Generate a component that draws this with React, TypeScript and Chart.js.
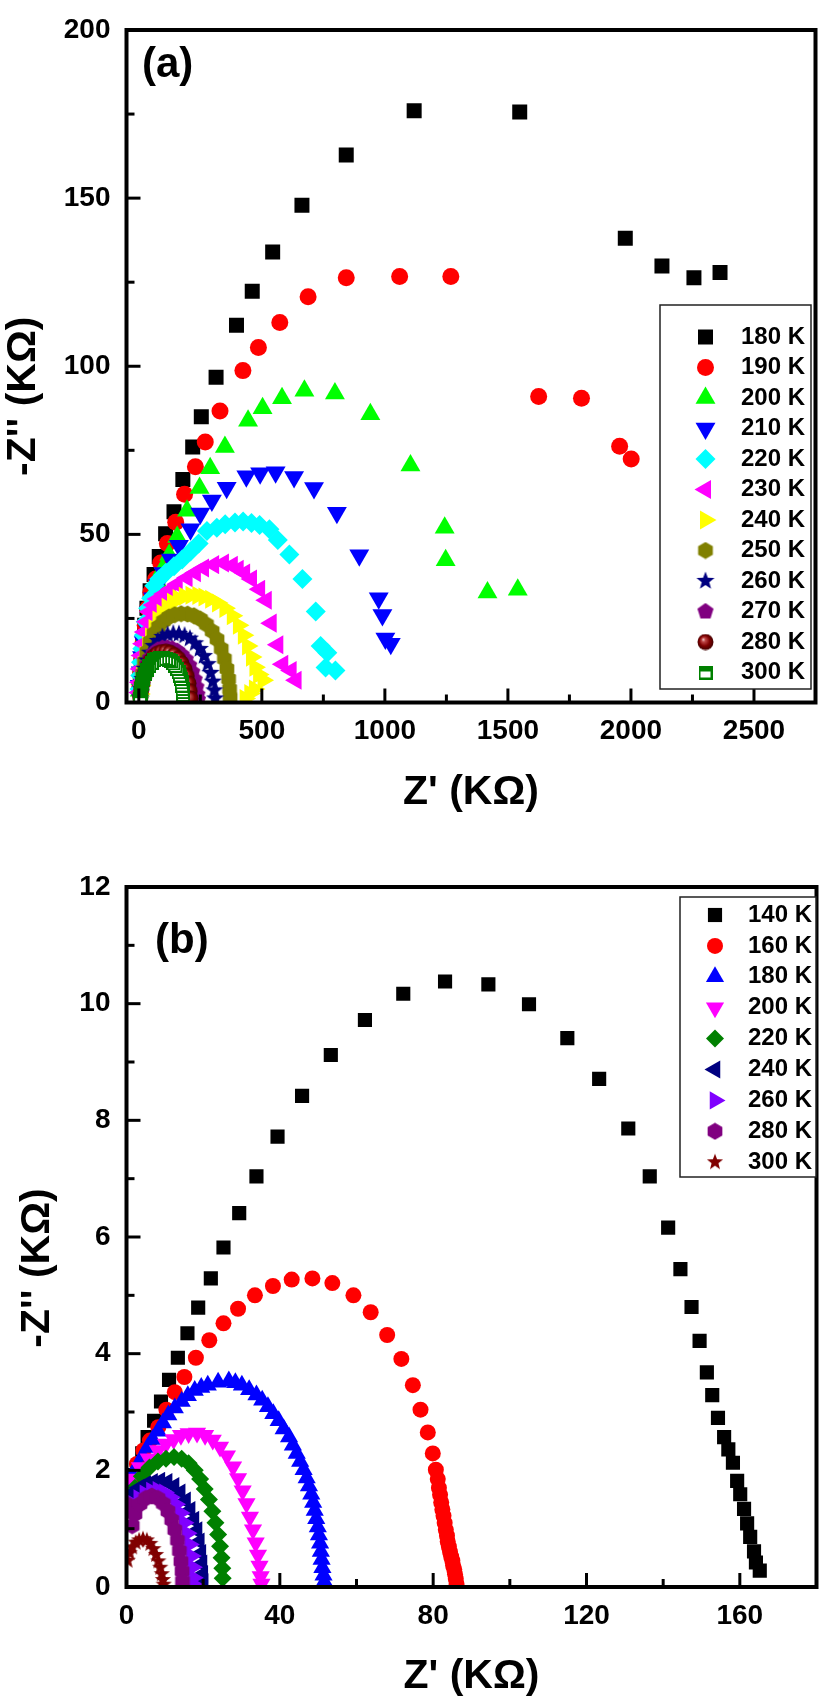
import { useEffect, useRef } from "react";
import { Chart, registerables } from "chart.js";
import { drawPoint } from "chart.js/helpers";

Chart.register(...registerables);

const FONT = "'Liberation Sans', Arial, Helvetica, sans-serif";
const PANEL_H = 850;

// ---------- panel (a) ----------
const A_X_MAJOR = [0, 500, 1000, 1500, 2000, 2500];
const A_X_MINOR = [250, 750, 1250, 1750, 2250];
const A_Y_MAJOR = [0, 50, 100, 150, 200];
const A_Y_MINOR = [25, 75, 125, 175];
const A_LABELS = ["180 K", "190 K", "200 K", "210 K", "220 K", "230 K", "240 K", "250 K", "260 K", "270 K", "280 K", "300 K"];
const A_COLORS = ["#000000", "#ff0000", "#00ff00", "#0000ff", "#00ffff", "#ff00ff", "#ffff00", "#808000", "#000080", "#800080", "#800000", "#008000"];

const A_180K = [[3, 4], [6, 8], [10, 12.5], [16, 17.5], [24, 23], [33, 28], [46, 33.2], [62, 38.1], [83, 43.4], [109, 50.2], [143, 56.7], [179, 66.3], [219, 76], [254, 85], [314, 96.7], [397, 112.2], [461, 122.3], [544, 134], [663, 147.9], [843, 162.8], [1119, 176], [1548, 175.6], [1977, 138.1], [2126, 129.8], [2256, 126.3], [2362, 127.9]];
const A_190K = [[4, 4.5], [7, 8.5], [12, 13], [18, 18], [26, 23], [36, 28], [49, 32.8], [69, 36.7], [89, 41.5], [116, 47.3], [150, 53.6], [186, 61.9], [230, 70.1], [270, 77.5], [330, 86.7], [423, 98.7], [486, 105.6], [573, 113], [688, 120.7], [843, 126.3], [1060, 126.7], [1268, 126.7], [1625, 91], [1799, 90.5], [1954, 76.2], [2001, 72.4]];
const A_200K = [[4, 3.5], [7, 7], [12, 11], [18, 15.5], [26, 20], [36, 25], [48, 29], [62, 32.9], [76, 35.8], [96, 39.6], [123, 43.9], [156, 49.2], [196, 57], [247, 63.8], [290, 69.7], [350, 76], [444, 83.8], [503, 87.5], [582, 90.5], [673, 92.7], [797, 91.9], [941, 85.7], [1104, 70.5], [1243, 52], [1247, 42.3], [1417, 32.7], [1540, 33.5]];
const A_210K = [[4, 5], [8, 9], [13, 13.5], [20, 18], [30, 22.5], [42, 27], [58, 31], [78, 35], [100, 38.5], [130, 42.5], [163, 46.6], [210, 51.5], [250, 56.2], [297, 60.1], [357, 63.9], [437, 67.3], [493, 68.2], [556, 68.5], [631, 67.1], [712, 63.8], [805, 56.4], [896, 43.8], [975, 31], [990, 26], [1002, 19], [1024, 17.5]];
const A_220K = [[3, 4], [6, 8], [9, 12], [14, 16], [20, 20], [28, 24], [38, 28], [50, 31], [63, 34.7], [83, 36.7], [110, 38.6], [143, 40.5], [176, 42.5], [210, 44.9], [243, 47.3], [277, 51], [317, 52], [351, 53], [391, 53.5], [424, 53.8], [458, 53.4], [491, 52.8], [531, 51.5], [565, 48.3], [612, 44], [665, 36.7], [719, 27.1], [739, 16.8], [766, 14.8], [759, 10.4], [799, 9.5]];
const A_230K = [[2, 3], [4, 6], [7, 10], [11, 14], [17, 17.5], [24, 21], [33, 24], [45, 27], [60, 29], [76, 30.8], [103, 32.3], [130, 33.7], [156, 35.2], [196, 37.1], [230, 38.6], [263, 40], [304, 41], [344, 41.5], [380, 40.8], [404, 39.6], [430, 38.5], [458, 36.7], [491, 33.7], [518, 30.4], [538, 23.6], [565, 17.2], [585, 11.4], [619, 9.5], [639, 6.6]];
const A_240K = [[4, 2.5], [7, 5], [12, 8], [18, 11], [26, 14], [36, 17], [48, 19.5], [62, 22], [78, 24.5], [95, 26.5], [115, 28.3], [137, 29.8], [160, 30.9], [185, 31.6], [212, 31.9], [240, 31.8], [265, 31.4], [292, 30.7], [320, 29.6], [350, 28], [380, 25.8], [405, 23], [425, 20], [442, 16.8], [458, 13.5], [472, 10.5], [487, 8.3], [505, 6.6], [470, 4], [451, 2.7], [432, 1.2]];
const A_250K = [[5, 2], [9, 5], [15, 8.5], [23, 12], [33, 15], [46, 18], [62, 20.5], [80, 22.5], [100, 24.2], [122, 25.4], [146, 26.1], [172, 26.4], [198, 26.3], [224, 25.8], [250, 24.8], [275, 23.2], [298, 21.2], [318, 18.8], [335, 16], [348, 13], [358, 10], [365, 7], [369, 4], [371, 1.5]];
const A_260K = [[5, 1.5], [9, 4], [15, 7], [23, 10], [33, 12.5], [45, 14.8], [60, 16.8], [77, 18.3], [96, 19.5], [117, 20.2], [140, 20.5], [163, 20.4], [186, 19.9], [208, 19], [229, 17.6], [248, 15.9], [265, 13.8], [280, 11.4], [292, 8.8], [301, 6.2], [307, 3.6], [310, 1.2]];
const A_270K = [[6, 1.5], [10, 4], [16, 6.5], [24, 9], [34, 11.3], [46, 13.2], [60, 14.7], [77, 15.7], [96, 16.2], [116, 16.3], [136, 16], [156, 15.3], [174, 14.2], [191, 12.8], [205, 11], [217, 9], [227, 6.8], [234, 4.5], [238, 2.3], [240, 0.8]];
const A_280K = [[6, 1.5], [10, 3.8], [16, 6], [24, 8.3], [34, 10.4], [46, 12.2], [60, 13.6], [76, 14.5], [93, 15], [110, 15.1], [127, 14.8], [144, 14.1], [160, 13], [174, 11.6], [186, 9.9], [195, 7.9], [202, 5.7], [207, 3.4], [210, 1.2]];
const A_300K = [[181, 0.4], [181, 1.3], [180, 2.2], [179, 3.1], [178, 4], [176, 5], [174, 6], [171, 7], [167, 8], [162, 9], [156, 10], [149, 10.9], [141, 11.6], [132, 12.2], [122, 12.7], [111, 13], [99, 13.2], [87, 13.2], [75, 13], [63, 12.5], [52, 11.8], [42, 10.9], [33, 9.8], [25, 8.5], [19, 7], [14, 5.5], [10, 4], [7, 2.5], [5, 1]];
const A_SERIES = [A_180K, A_190K, A_200K, A_210K, A_220K, A_230K, A_240K, A_250K, A_260K, A_270K, A_280K, A_300K];

// ---------- panel (b) ----------
const B_X_MAJOR = [0, 40, 80, 120, 160];
const B_X_MINOR = [20, 60, 100, 140];
const B_Y_MAJOR = [0, 2, 4, 6, 8, 10, 12];
const B_Y_MINOR = [1, 3, 5, 7, 9, 11];
const B_LABELS = ["140 K", "160 K", "180 K", "200 K", "220 K", "240 K", "260 K", "280 K", "300 K"];
const B_COLORS = ["#000000", "#ff0000", "#0000ff", "#ff00ff", "#008000", "#000080", "#8000ff", "#800080", "#800000"];

const B_140K = [[1, 1.75], [1.8, 1.92], [3, 2.06], [4.1, 2.29], [5.5, 2.57], [7.2, 2.85], [9, 3.18], [11.1, 3.55], [13.4, 3.93], [15.9, 4.35], [18.7, 4.79], [22, 5.29], [25.3, 5.82], [29.4, 6.41], [33.9, 7.04], [39.4, 7.72], [45.8, 8.42], [53.3, 9.12], [62.2, 9.72], [72.2, 10.17], [83.1, 10.38], [94.4, 10.33], [105, 9.99], [115, 9.41], [123.3, 8.71], [130.9, 7.86], [136.5, 7.04], [141.3, 6.16], [144.5, 5.45], [147.4, 4.8], [149.5, 4.22], [151.4, 3.68], [152.8, 3.29], [154.3, 2.9], [155.9, 2.57], [157, 2.36], [158.2, 2.13], [159.3, 1.82], [160.1, 1.59], [161.1, 1.34], [161.9, 1.09], [162.7, 0.86], [163.7, 0.61], [164.2, 0.42], [165.2, 0.28]];
const B_160K = [[0.5, 1.75], [1.4, 1.89], [2.7, 2.11], [4.4, 2.34], [6.1, 2.51], [8.3, 2.74], [10.4, 3.04], [12.6, 3.34], [15.1, 3.6], [18.1, 3.93], [21.6, 4.23], [25.3, 4.52], [29.1, 4.77], [33.5, 5], [38.2, 5.16], [43.1, 5.27], [48.5, 5.29], [53.7, 5.21], [59.2, 5], [63.7, 4.71], [68, 4.32], [71.7, 3.91], [74.7, 3.46], [76.7, 3.04], [78.6, 2.65], [79.9, 2.29], [80.7, 2.01], [81.2, 1.85], [81.5, 1.7], [81.8, 1.58], [82.1, 1.45], [82.4, 1.33], [82.7, 1.22], [83, 1.1], [83.3, 0.98], [83.6, 0.88], [83.8, 0.78], [84.1, 0.69], [84.4, 0.6], [84.7, 0.52], [85, 0.45], [85.2, 0.37], [85.5, 0.3], [85.7, 0.22], [85.9, 0.14], [86.1, 0.05]];
const B_180K = [[0.7, 1.82], [1.8, 1.96], [3, 2.1], [4.2, 2.24], [5.5, 2.39], [6.8, 2.53], [8.2, 2.67], [9.5, 2.81], [10.9, 2.95], [12.6, 3.07], [14.4, 3.18], [16, 3.28], [17.8, 3.37], [19.5, 3.42], [21.2, 3.46], [23.9, 3.51], [26.7, 3.53], [28.4, 3.5], [30.1, 3.46], [32, 3.38], [33.9, 3.29], [35.4, 3.2], [36.9, 3.09], [38.3, 2.97], [39.7, 2.85], [41, 2.71], [42.4, 2.57], [43.4, 2.43], [44.4, 2.29], [45.3, 2.15], [46.2, 2.01], [47, 1.87], [47.6, 1.73], [48.2, 1.59], [48.7, 1.45], [49.1, 1.31], [49.5, 1.17], [49.9, 1.03], [50.2, 0.89], [50.5, 0.75], [50.7, 0.61], [50.9, 0.47], [51.1, 0.33], [51.4, 0.2], [51.6, 0.09]];
const B_200K = [[1.2, 1.85], [3.5, 2.05], [5.8, 2.2], [8.2, 2.34], [10.3, 2.45], [12.3, 2.53], [14.2, 2.6], [16.2, 2.63], [18.4, 2.64], [20.5, 2.6], [22.5, 2.52], [24.4, 2.4], [26.2, 2.25], [27.8, 2.06], [29.1, 1.86], [30.3, 1.65], [31.3, 1.43], [32.2, 1.2], [33, 0.98], [33.7, 0.76], [34.3, 0.55], [34.7, 0.36], [35, 0.18], [35.2, 0.05]];
const B_220K = [[0.8, 1.45], [2.2, 1.7], [4, 1.9], [6, 2.05], [8.2, 2.15], [10.3, 2.2], [12.4, 2.23], [14.4, 2.2], [16.2, 2.12], [17.8, 2], [19.2, 1.85], [20.4, 1.68], [21.5, 1.5], [22.4, 1.3], [23.2, 1.1], [23.9, 0.9], [24.4, 0.7], [24.8, 0.5], [25, 0.32], [25.1, 0.15]];
const B_240K = [[0.5, 1.5], [1.8, 1.62], [3.3, 1.7], [5, 1.76], [6.8, 1.8], [8.7, 1.82], [10.6, 1.8], [12.4, 1.73], [14, 1.62], [15.4, 1.48], [16.6, 1.32], [17.6, 1.15], [18.4, 0.97], [19, 0.78], [19.4, 0.58], [19.7, 0.4], [19.9, 0.22], [20, 0.08]];
const B_260K = [[0.6, 1.3], [1.8, 1.42], [3.2, 1.52], [4.8, 1.6], [6.5, 1.65], [8.2, 1.66], [9.9, 1.62], [11.4, 1.54], [12.8, 1.42], [14, 1.27], [15, 1.1], [15.8, 0.92], [16.4, 0.73], [16.9, 0.53], [17.2, 0.34], [17.4, 0.16], [17.5, 0.04]];
const B_280K = [[0.7, 1.4], [1.5, 1.05], [2.2, 1.25], [3.5, 1.42], [5, 1.52], [6.6, 1.56], [8.2, 1.52], [9.6, 1.43], [10.8, 1.3], [11.8, 1.15], [12.6, 0.98], [13.3, 0.8], [13.8, 0.62], [14.2, 0.44], [14.5, 0.27], [14.6, 0.1]];
const B_300K = [[0.3, 0.45], [0.8, 0.58], [1.5, 0.68], [2.4, 0.76], [3.3, 0.8], [4.3, 0.82], [5.3, 0.8], [6.2, 0.74], [7, 0.65], [7.7, 0.55], [8.3, 0.44], [8.8, 0.33], [9.2, 0.22], [9.5, 0.12], [9.7, 0.04]];
const B_SERIES = [B_140K, B_160K, B_180K, B_200K, B_220K, B_240K, B_260K, B_280K, B_300K];

const X_TITLE = "Z' (KΩ)";
const Y_TITLE = "-Z'' (KΩ)";

// ---------- custom point styles ----------
function markerCanvas(size: number, paint: (ctx: CanvasRenderingContext2D, s: number) => void) {
  const c = document.createElement("canvas");
  c.width = size;
  c.height = size;
  paint(c.getContext("2d")!, size);
  return c;
}

function polygonMarker(size: number, color: string, corners: number, innerRatio = 0) {
  return markerCanvas(size, (ctx, s) => {
    const n = innerRatio ? corners * 2 : corners;
    const r = s / 2 - 0.5;
    ctx.beginPath();
    for (let i = 0; i < n; i++) {
      const rr = innerRatio && i % 2 ? r * innerRatio : r;
      const a = -Math.PI / 2 + (i * 2 * Math.PI) / n;
      ctx.lineTo(s / 2 + rr * Math.cos(a), s / 2 + rr * Math.sin(a));
    }
    ctx.closePath();
    ctx.fillStyle = color;
    ctx.fill();
  });
}

function ballMarker(size: number, color: string) {
  return markerCanvas(size, (ctx, s) => {
    const g = ctx.createRadialGradient(s * 0.36, s * 0.34, 0, s / 2, s / 2, s / 2);
    g.addColorStop(0, "#f6dede");
    g.addColorStop(0.22, "#c04848");
    g.addColorStop(0.6, color);
    g.addColorStop(1, "#3a0000");
    ctx.beginPath();
    ctx.arc(s / 2, s / 2, s / 2 - 0.5, 0, Math.PI * 2);
    ctx.fillStyle = g;
    ctx.fill();
  });
}

function halfSquareMarker(size: number, color: string) {
  return markerCanvas(size, (ctx, s) => {
    ctx.fillStyle = "#fff";
    ctx.fillRect(1, 1, s - 2, s - 2);
    ctx.fillStyle = color;
    ctx.fillRect(1, 1, s - 2, Math.round((s - 2) * 0.45));
    ctx.strokeStyle = color;
    ctx.lineWidth = 2;
    ctx.strokeRect(1, 1, s - 2, s - 2);
  });
}

type Marker = { style: any; radius: number; rotation?: number };

function series(label: string, pts: number[][], color: string, m: Marker, i: number) {
  return {
    label,
    data: pts.map(([x, y]) => ({ x, y })),
    pointStyle: m.style,
    pointRadius: m.radius,
    pointHoverRadius: m.radius,
    pointRotation: m.rotation ?? 0,
    pointBackgroundColor: color,
    pointBorderColor: color,
    pointBorderWidth: 0,
    clip: 0,
    order: -i, // later temperatures drawn on top, like the original plot
  };
}

// ---------- plugins ----------
const frameTicks = {
  id: "frameTicks",
  afterDatasetsDraw(chart: any, _args: any, o: any) {
    const { ctx, chartArea: a } = chart;
    const xs = chart.scales.x;
    const ys = chart.scales.y;
    const tick = (x: number, y: number, dx: number, dy: number) => {
      ctx.beginPath();
      ctx.moveTo(x, y);
      ctx.lineTo(x + dx, y + dy);
      ctx.stroke();
    };
    ctx.save();
    ctx.strokeStyle = "#000";
    ctx.lineWidth = 3;
    o.xMajor.forEach((v: number) => tick(xs.getPixelForValue(v), a.bottom, 0, -14));
    o.xMinor.forEach((v: number) => tick(xs.getPixelForValue(v), a.bottom, 0, -8));
    o.yMajor.forEach((v: number) => tick(a.left, ys.getPixelForValue(v), 14, 0));
    o.yMinor.forEach((v: number) => tick(a.left, ys.getPixelForValue(v), 8, 0));
    ctx.lineWidth = 4;
    ctx.strokeRect(a.left, a.top, a.right - a.left, a.bottom - a.top);
    ctx.restore();
  },
};

const panelText = {
  id: "panelText",
  afterDraw(chart: any, _args: any, o: any) {
    const { ctx, chartArea: a } = chart;
    ctx.save();
    ctx.fillStyle = "#000";
    ctx.font = `bold 42px ${FONT}`;
    ctx.textAlign = "left";
    ctx.textBaseline = "alphabetic";
    ctx.fillText(o.letter, o.letterX, o.letterY);

    ctx.font = `bold 41px ${FONT}`;
    ctx.textAlign = "center";
    ctx.fillText(X_TITLE, (a.left + a.right) / 2, a.bottom + 101);
    ctx.translate(o.yTitleX, (a.top + a.bottom) / 2 + o.yTitleShift);
    ctx.rotate(-Math.PI / 2);
    ctx.textBaseline = "middle";
    ctx.fillText(Y_TITLE, 0, 0);
    ctx.restore();

    const L = o.legend;
    ctx.save();
    ctx.fillStyle = "#fff";
    ctx.fillRect(L.x, L.y, L.w, L.h);
    ctx.strokeStyle = "#222";
    ctx.lineWidth = 1.5;
    ctx.strokeRect(L.x, L.y, L.w, L.h);
    ctx.font = `bold 24px ${FONT}`;
    ctx.textAlign = "left";
    ctx.textBaseline = "middle";
    chart.data.datasets.forEach((ds: any, i: number) => {
      const y = L.rowY + i * L.rowGap;
      ctx.fillStyle = ds.pointBackgroundColor;
      drawPoint(ctx, { pointStyle: ds.pointStyle, rotation: ds.pointRotation, radius: ds.pointRadius, borderWidth: 0 }, L.markerX, y);
      ctx.fillStyle = "#000";
      ctx.fillText(ds.label, L.textX, y);
    });
    ctx.restore();
  },
};

function scatterConfig(p: any) {
  const tickFont = { family: FONT, size: 28, weight: "bold", lineHeight: 1 };
  const fixedTicks = (values: number[]) => (scale: any) => {
    scale.ticks = values.map((value) => ({ value }));
  };
  return {
    type: "scatter",
    data: { datasets: p.datasets },
    options: {
      responsive: true,
      maintainAspectRatio: false,
      animation: false,
      events: [],
      layout: { padding: { left: 0, right: 5, top: p.plotTop, bottom: 0 } },
      scales: {
        x: {
          type: "linear",
          min: p.x.min,
          max: p.x.max,
          afterBuildTicks: fixedTicks(p.x.major),
          afterFit: (scale: any) => {
            scale.height = PANEL_H - p.plotBottom;
          },
          grid: { display: false, drawTicks: false },
          border: { display: false },
          ticks: { color: "#000", font: tickFont, padding: 15, maxRotation: 0, autoSkip: false, callback: (v: number) => String(v) },
        },
        y: {
          type: "linear",
          min: p.y.min,
          max: p.y.max,
          afterBuildTicks: fixedTicks(p.y.major),
          afterFit: (scale: any) => {
            scale.width = 126.5;
          },
          grid: { display: false, drawTicks: false },
          border: { display: false },
          ticks: { color: "#000", font: tickFont, padding: 16, autoSkip: false, callback: (v: number) => String(v) },
        },
      },
      plugins: {
        legend: { display: false },
        tooltip: { enabled: false },
        frameTicks: { xMajor: p.x.major, xMinor: p.x.minor, yMajor: p.y.major, yMinor: p.y.minor },
        panelText: p.text,
      },
    },
    plugins: [frameTicks, panelText],
  };
}

function panelA() {
  const c = A_COLORS;
  const markers: Marker[] = [
    { style: "rect", radius: 10.6 },
    { style: "circle", radius: 8.5 },
    { style: "triangle", radius: 11.5 },
    { style: "triangle", radius: 11.5, rotation: 180 },
    { style: "rectRot", radius: 10 },
    { style: "triangle", radius: 11, rotation: 270 },
    { style: "triangle", radius: 11, rotation: 90 },
    { style: polygonMarker(18, c[7], 6), radius: 9 },
    { style: polygonMarker(20, c[8], 5, 0.42), radius: 9 },
    { style: polygonMarker(18, c[9], 5), radius: 9 },
    { style: ballMarker(17, c[10]), radius: 8.5 },
    { style: halfSquareMarker(14, c[11]), radius: 7 },
  ];
  return scatterConfig({
    datasets: A_SERIES.map((pts, i) => series(A_LABELS[i], pts, c[i], markers[i], i)),
    x: { min: -50, max: 2750, major: A_X_MAJOR, minor: A_X_MINOR },
    y: { min: 0, max: 200, major: A_Y_MAJOR, minor: A_Y_MINOR },
    plotTop: 16,
    plotBottom: 702.5,
    text: {
      letter: "(a)",
      letterX: 142,
      letterY: 77,
      yTitleX: 24,
      yTitleShift: 30,
      legend: { x: 660, y: 305, w: 151, h: 384, markerX: 705.5, textX: 741, rowY: 337, rowGap: 30.5 },
    },
  });
}

function panelB() {
  const c = B_COLORS;
  const markers: Marker[] = [
    { style: "rect", radius: 10 },
    { style: "circle", radius: 8 },
    { style: "triangle", radius: 10.5 },
    { style: "triangle", radius: 10.5, rotation: 180 },
    { style: "rectRot", radius: 9 },
    { style: "triangle", radius: 10.5, rotation: 270 },
    { style: "triangle", radius: 10.5, rotation: 90 },
    { style: polygonMarker(18, c[7], 6), radius: 9 },
    { style: polygonMarker(18, c[8], 5, 0.42), radius: 9 },
  ];
  return scatterConfig({
    datasets: B_SERIES.map((pts, i) => series(B_LABELS[i], pts, c[i], markers[i], i)),
    x: { min: 0, max: 180, major: B_X_MAJOR, minor: B_X_MINOR },
    y: { min: 0, max: 12, major: B_Y_MAJOR, minor: B_Y_MINOR },
    plotTop: 37,
    plotBottom: 737,
    text: {
      letter: "(b)",
      letterX: 155,
      letterY: 103,
      yTitleX: 38,
      yTitleShift: 31,
      legend: { x: 680, y: 47, w: 136, h: 280, markerX: 715, textX: 748, rowY: 65, rowGap: 30.9 },
    },
  });
}

function ImpedancePanel({ build, label }: { build: () => any; label: string }) {
  const canvasRef = useRef<HTMLCanvasElement>(null);

  useEffect(() => {
    if (!canvasRef.current) return;
    const chart = new Chart(canvasRef.current, build());
    return () => chart.destroy();
  }, [build]);

  return (
    <div style={{ position: "relative", width: 827, height: PANEL_H }}>
      <canvas ref={canvasRef} role="img" aria-label={label} />
    </div>
  );
}

export default function App() {
  return (
    <div style={{ position: "absolute", left: 0, top: 0, width: 827, height: 1700, background: "#fff" }}>
      <ImpedancePanel build={panelA} label="Nyquist plots, -Z'' versus Z' in kilo-ohm, 180 K to 300 K" />
      <ImpedancePanel build={panelB} label="Nyquist plots, -Z'' versus Z' in kilo-ohm, 140 K to 300 K" />
    </div>
  );
}
